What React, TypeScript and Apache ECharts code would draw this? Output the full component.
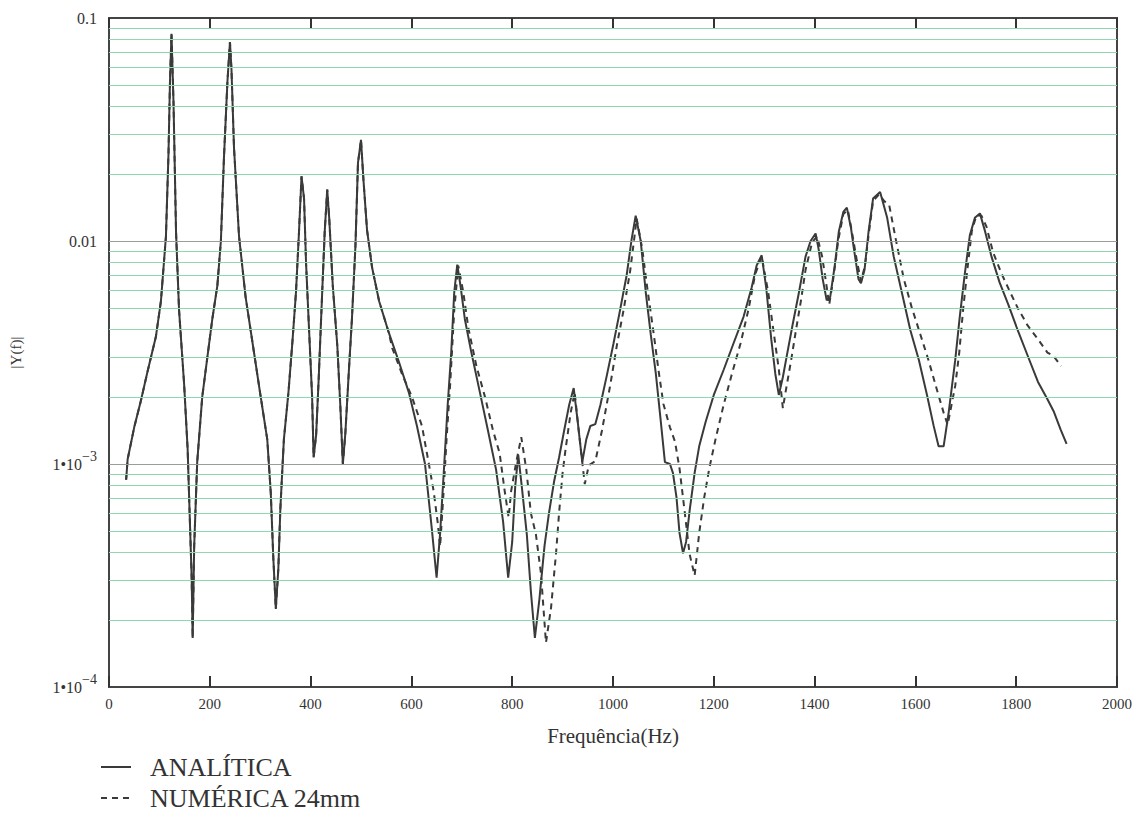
import React, { useEffect, useRef } from "react";
import * as echarts from "echarts";

// [frequency (Hz), |Y(f)|]
const analitica: [number, number][] = [
  [34, 8.5e-4], [37, 1.05e-3], [50, 1.46e-3], [63, 1.91e-3], [76, 2.57e-3], [93, 3.72e-3], [103, 5.37e-3],
  [113, 1.05e-2], [118, 2.45e-2], [121, 5.19e-2], [124, 8.5e-2], [128, 4.17e-2], [133, 1.1e-2], [139, 4.9e-3],
  [149, 2.29e-3], [156, 1.17e-3], [160, 6.0e-4], [164, 3.09e-4], [166, 1.66e-4], [169, 4.27e-4], [175, 1.02e-3],
  [185, 2.0e-3], [195, 2.99e-3], [205, 4.47e-3], [215, 6.31e-3], [222, 1.0e-2], [228, 2.34e-2], [235, 5.19e-2],
  [240, 7.8e-2], [243, 5.89e-2], [248, 2.63e-2], [258, 1.05e-2], [271, 5.62e-3], [288, 3.13e-3], [301, 2.0e-3],
  [314, 1.29e-3], [321, 7.41e-4], [326, 3.8e-4], [331, 2.24e-4], [336, 3.39e-4], [340, 6.31e-4], [347, 1.29e-3],
  [356, 2.09e-3], [364, 3.55e-3], [371, 5.89e-3], [377, 1.1e-2], [382, 1.95e-2], [387, 1.55e-2], [391, 7.94e-3],
  [398, 3.55e-3], [403, 2.0e-3], [406, 1.07e-3], [411, 1.35e-3], [416, 2.4e-3], [423, 5.89e-3], [428, 1.1e-2],
  [433, 1.7e-2], [437, 1.26e-2], [444, 6.31e-3], [453, 3.39e-3], [459, 1.82e-3], [464, 1.0e-3], [469, 1.38e-3],
  [476, 2.63e-3], [482, 4.47e-3], [489, 9.55e-3], [494, 2.24e-2], [500, 2.84e-2], [505, 1.86e-2], [512, 1.12e-2],
  [522, 7.6e-3], [536, 5.37e-3], [555, 3.89e-3], [575, 2.88e-3], [595, 2.09e-3], [611, 1.48e-3], [627, 1.0e-3],
  [640, 5.25e-4], [650, 3.09e-4], [657, 4.9e-4], [664, 9.0e-4], [672, 1.84e-3], [679, 3.16e-3], [685, 5.89e-3],
  [691, 7.83e-3], [698, 6.17e-3], [706, 4.47e-3], [719, 3.16e-3], [736, 2.09e-3], [752, 1.41e-3], [768, 9.44e-4],
  [782, 5.5e-4], [792, 3.09e-4], [800, 4.47e-4], [806, 7.94e-4], [812, 1.1e-3], [819, 7.94e-4], [829, 4.84e-4],
  [837, 2.69e-4], [845, 1.66e-4], [854, 2.48e-4], [864, 4.27e-4], [873, 6.03e-4], [883, 8.32e-4], [893, 1.07e-3],
  [903, 1.41e-3], [913, 1.84e-3], [922, 2.19e-3], [930, 1.55e-3], [939, 1.02e-3], [947, 1.29e-3], [955, 1.48e-3],
  [965, 1.51e-3], [975, 1.84e-3], [988, 2.51e-3], [1001, 3.47e-3], [1014, 4.9e-3], [1027, 7.0e-3], [1037, 1.02e-2],
  [1045, 1.3e-2], [1055, 1.0e-2], [1065, 5.89e-3], [1075, 3.8e-3], [1085, 2.54e-3], [1094, 1.62e-3], [1103, 1.02e-3],
  [1113, 1.0e-3], [1119, 9.1e-4], [1126, 7.08e-4], [1132, 4.9e-4], [1139, 3.98e-4], [1145, 4.47e-4], [1152, 6.17e-4],
  [1162, 9.12e-4], [1171, 1.2e-3], [1184, 1.55e-3], [1200, 2.04e-3], [1220, 2.66e-3], [1239, 3.47e-3], [1259, 4.57e-3],
  [1275, 6.17e-3], [1285, 7.76e-3], [1295, 8.63e-3], [1304, 6.17e-3], [1314, 3.63e-3], [1322, 2.54e-3], [1329, 2.04e-3],
  [1337, 2.45e-3], [1346, 3.16e-3], [1356, 4.17e-3], [1369, 5.89e-3], [1382, 8.51e-3], [1392, 1.0e-2], [1402, 1.08e-2],
  [1408, 9.2e-3], [1416, 6.76e-3], [1424, 5.42e-3], [1431, 5.62e-3], [1440, 7.76e-3], [1448, 1.1e-2], [1457, 1.35e-2],
  [1464, 1.41e-2], [1472, 1.15e-2], [1478, 9.23e-3], [1487, 6.76e-3], [1492, 6.46e-3], [1499, 7.41e-3], [1507, 1.1e-2],
  [1516, 1.55e-2], [1530, 1.66e-2], [1544, 1.27e-2], [1557, 8.51e-3], [1574, 5.75e-3], [1590, 3.98e-3], [1607, 2.92e-3],
  [1623, 2.04e-3], [1636, 1.49e-3], [1646, 1.2e-3], [1656, 1.2e-3], [1666, 1.7e-3], [1679, 2.92e-3], [1688, 4.57e-3],
  [1698, 7.13e-3], [1708, 1.06e-2], [1718, 1.27e-2], [1728, 1.33e-2], [1738, 1.11e-2], [1751, 8.51e-3], [1767, 6.52e-3],
  [1784, 5.21e-3], [1803, 3.98e-3], [1823, 3.05e-3], [1843, 2.34e-3], [1862, 1.95e-3], [1875, 1.71e-3], [1888, 1.43e-3],
  [1900, 1.23e-3],
];

const numerica: [number, number][] = [
  [34, 8.5e-4], [37, 1.05e-3], [50, 1.46e-3], [63, 1.91e-3], [76, 2.57e-3], [93, 3.72e-3], [103, 5.37e-3],
  [113, 1.05e-2], [118, 2.45e-2], [121, 5.19e-2], [124, 8.5e-2], [128, 4.17e-2], [133, 1.1e-2], [139, 4.9e-3],
  [149, 2.29e-3], [156, 1.17e-3], [160, 6.0e-4], [164, 3.09e-4], [166, 1.66e-4], [169, 4.27e-4], [175, 1.02e-3],
  [185, 2.0e-3], [195, 2.99e-3], [205, 4.47e-3], [215, 6.31e-3], [222, 1.0e-2], [228, 2.34e-2], [235, 5.19e-2],
  [240, 7.8e-2], [243, 5.89e-2], [248, 2.63e-2], [258, 1.05e-2], [271, 5.62e-3], [288, 3.13e-3], [301, 2.0e-3],
  [314, 1.29e-3], [321, 7.41e-4], [326, 3.8e-4], [331, 2.24e-4], [336, 3.39e-4], [340, 6.31e-4], [347, 1.29e-3],
  [356, 2.09e-3], [364, 3.55e-3], [371, 5.89e-3], [377, 1.1e-2], [382, 1.95e-2], [387, 1.55e-2], [391, 7.94e-3],
  [398, 3.55e-3], [403, 2.0e-3], [406, 1.07e-3], [411, 1.35e-3], [416, 2.4e-3], [423, 5.89e-3], [428, 1.1e-2],
  [433, 1.7e-2], [437, 1.26e-2], [444, 6.31e-3], [453, 3.39e-3], [459, 1.82e-3], [464, 1.0e-3], [469, 1.38e-3],
  [476, 2.63e-3], [482, 4.47e-3], [489, 9.55e-3], [494, 2.24e-2], [500, 2.84e-2], [505, 1.86e-2], [512, 1.12e-2],
  [522, 7.6e-3], [536, 5.37e-3], [555, 3.89e-3], [562, 3.31e-3], [582, 2.51e-3], [601, 2.0e-3], [621, 1.48e-3],
  [634, 1.02e-3], [644, 7.59e-4], [652, 5.5e-4], [657, 4.27e-4], [664, 7.59e-4], [670, 1.32e-3], [677, 2.29e-3],
  [685, 4.9e-3], [693, 7.76e-3], [703, 5.89e-3], [713, 4.07e-3], [729, 2.75e-3], [746, 2.0e-3], [762, 1.41e-3],
  [775, 1.12e-3], [785, 7.59e-4], [793, 5.75e-4], [798, 7.59e-4], [808, 1.02e-3], [818, 1.32e-3], [828, 9.44e-4],
  [837, 6.03e-4], [847, 4.84e-4], [857, 3.24e-4], [867, 1.58e-4], [877, 2.26e-4], [887, 3.98e-4], [893, 6.03e-4],
  [900, 9.12e-4], [906, 1.17e-3], [916, 1.7e-3], [924, 2.09e-3], [932, 1.41e-3], [939, 1.02e-3], [944, 8.13e-4],
  [952, 9.86e-4], [965, 1.03e-3], [978, 1.41e-3], [995, 2.29e-3], [1008, 3.44e-3], [1021, 4.9e-3], [1034, 7.33e-3],
  [1042, 1.02e-2], [1047, 1.26e-2], [1058, 9.23e-3], [1068, 6.17e-3], [1081, 3.8e-3], [1090, 2.66e-3], [1100, 1.86e-3],
  [1113, 1.46e-3], [1123, 1.26e-3], [1132, 9.55e-4], [1142, 6.17e-4], [1152, 3.94e-4], [1162, 3.16e-4], [1171, 4.9e-4],
  [1181, 7.08e-4], [1191, 9.55e-4], [1204, 1.31e-3], [1220, 1.86e-3], [1236, 2.54e-3], [1253, 3.47e-3], [1269, 4.95e-3],
  [1282, 7.08e-3], [1295, 8.51e-3], [1308, 5.89e-3], [1317, 4.17e-3], [1329, 2.66e-3], [1337, 1.78e-3], [1343, 2.14e-3],
  [1353, 2.88e-3], [1363, 3.98e-3], [1373, 5.42e-3], [1382, 7.41e-3], [1395, 9.86e-3], [1405, 1.05e-2], [1415, 8.51e-3],
  [1423, 6.46e-3], [1429, 5.18e-3], [1437, 6.76e-3], [1447, 1.01e-2], [1457, 1.32e-2], [1466, 1.38e-2], [1474, 1.1e-2],
  [1484, 8.13e-3], [1492, 6.61e-3], [1500, 7.76e-3], [1508, 1.1e-2], [1516, 1.51e-2], [1528, 1.62e-2], [1538, 1.51e-2],
  [1548, 1.45e-2], [1561, 1.02e-2], [1577, 6.76e-3], [1593, 5.01e-3], [1610, 3.8e-3], [1626, 2.92e-3], [1643, 2.14e-3],
  [1656, 1.7e-3], [1664, 1.5e-3], [1679, 2.24e-3], [1687, 3.16e-3], [1695, 5.01e-3], [1704, 7.76e-3], [1712, 1.11e-2],
  [1721, 1.3e-2], [1731, 1.3e-2], [1741, 1.16e-2], [1754, 8.91e-3], [1771, 7.13e-3], [1787, 5.96e-3], [1803, 5.01e-3],
  [1823, 4.17e-3], [1843, 3.63e-3], [1862, 3.16e-3], [1874, 3.05e-3], [1889, 2.75e-3],
];

const seriesNames = ["ANALÍTICA", "NUMÉRICA 24mm"];
const xTicks = { min: 0, max: 2000, interval: 200 };
const yRange = { min: 1e-4, max: 0.1 };
// y tick labels keyed by decade exponent: [mantissa text, superscript]
const yTickLabels: Record<number, [string, string]> = {
  [-1]: ["0.1", ""],
  [-2]: ["0.01", ""],
  [-3]: ["1•10", "−3"],
  [-4]: ["1•10", "−4"],
};
const decadeGridValues = [1e-3, 1e-2];
const minorGridValues = [
  2e-4, 3e-4, 4e-4, 5e-4, 6e-4, 7e-4, 8e-4, 9e-4,
  2e-3, 3e-3, 4e-3, 5e-3, 6e-3, 7e-3, 8e-3, 9e-3,
  0.02, 0.03, 0.04, 0.05, 0.06, 0.07, 0.08, 0.09,
];
const xAxisName = "Frequência(Hz)";
const yAxisName = "|Y(f)|";

const SERIF = "'Liberation Serif', 'DejaVu Serif', serif";
const INK = "#3a3a3a";
const GREEN = "#8fd8ad";
const GRAY = "#9c9c9c";

export default function App() {
  const ref = useRef<HTMLDivElement>(null);
  useEffect(() => {
    if (!ref.current) return;
    const chart = echarts.init(ref.current, undefined, { renderer: "svg" });
    chart.setOption({
      animation: false,
      backgroundColor: "#ffffff",
      grid: {
        left: 104,
        right: 22,
        top: 18,
        bottom: 126,
        show: true,
        borderColor: "#444",
        borderWidth: 2,
        backgroundColor: "transparent",
      },
      legend: {
        data: seriesNames,
        orient: "vertical",
        left: 100,
        top: 752,
        padding: 0,
        itemWidth: 30,
        itemHeight: 14,
        itemGap: 1,
        itemStyle: { color: "rgba(0,0,0,0)", borderWidth: 0, opacity: 0 },
        textStyle: {
          fontFamily: SERIF,
          fontSize: 26,
          color: "#333",
          lineHeight: 30,
          padding: [0, 0, 0, 14],
        },
      },
      xAxis: [
        {
          type: "value",
          min: xTicks.min,
          max: xTicks.max,
          interval: xTicks.interval,
          position: "bottom",
          name: xAxisName,
          nameLocation: "middle",
          nameGap: 38,
          nameTextStyle: { fontFamily: SERIF, fontSize: 21, color: "#333" },
          axisLine: { show: true, lineStyle: { color: "#444", width: 2 } },
          axisTick: { show: true, inside: true, length: 11, lineStyle: { color: "#333", width: 2 } },
          axisLabel: {
            fontFamily: SERIF,
            fontSize: 15,
            color: "#333",
            margin: 9,
            formatter: (v: number) => String(v),
          },
          splitLine: { show: false },
        },
        {
          type: "value",
          min: xTicks.min,
          max: xTicks.max,
          interval: xTicks.interval,
          position: "top",
          axisLine: { show: true, lineStyle: { color: "#444", width: 2 } },
          axisTick: { show: true, inside: true, length: 10, lineStyle: { color: "#333", width: 2 } },
          axisLabel: { show: false },
          splitLine: { show: false },
        },
      ],
      yAxis: {
        type: "log",
        logBase: 10,
        min: yRange.min,
        max: yRange.max,
        name: yAxisName,
        nameLocation: "middle",
        nameGap: 86,
        nameTextStyle: { fontFamily: SERIF, fontSize: 15, color: "#333" },
        axisLine: { show: true, lineStyle: { color: "#444", width: 2 } },
        axisTick: { show: false },
        axisLabel: {
          margin: 12,
          formatter: (v: number) => {
            const e = Math.log10(v);
            if (Math.abs(e - Math.round(e)) > 1e-6) return "";
            const t = yTickLabels[Math.round(e)];
            if (!t) return "";
            return t[1] ? `{b|${t[0]}}{s|${t[1]}}` : `{b|${t[0]}}`;
          },
          rich: {
            b: { fontFamily: SERIF, fontSize: 16, color: "#333", lineHeight: 30 },
            s: { fontFamily: SERIF, fontSize: 14, color: "#333", lineHeight: 13, verticalAlign: "top" },
          },
        },
        splitLine: { show: false },
        minorSplitLine: { show: false },
      },
      series: [
        {
          name: "grid-lines",
          type: "line",
          data: [],
          silent: true,
          z: 1,
          markLine: {
            silent: true,
            precision: 8,
            symbol: ["none", "none"],
            label: { show: false },
            lineStyle: { color: GREEN, width: 1, type: "solid" },
            emphasis: { disabled: true },
            data: [
              ...minorGridValues.map((v) => ({ yAxis: v, lineStyle: { color: GREEN, width: 1, type: "solid" } })),
              ...decadeGridValues.map((v) => ({ yAxis: v, lineStyle: { color: GRAY, width: 1, type: "solid" } })),
            ],
          },
        },
        {
          name: seriesNames[0],
          type: "line",
          data: analitica,
          symbol: "none",
          showSymbol: false,
          z: 4,
          lineStyle: { color: INK, width: 2 },
          itemStyle: { color: INK },
        },
        {
          name: seriesNames[1],
          type: "line",
          data: numerica,
          symbol: "none",
          showSymbol: false,
          z: 3,
          lineStyle: { color: INK, width: 2, type: [6, 5] },
          itemStyle: { color: INK },
        },
      ],
    });
    return () => chart.dispose();
  }, []);
  return (
    <div
      ref={ref}
      style={{ position: "fixed", left: 0, top: 0, width: 1139, height: 813, background: "#fff" }}
    />
  );
}
